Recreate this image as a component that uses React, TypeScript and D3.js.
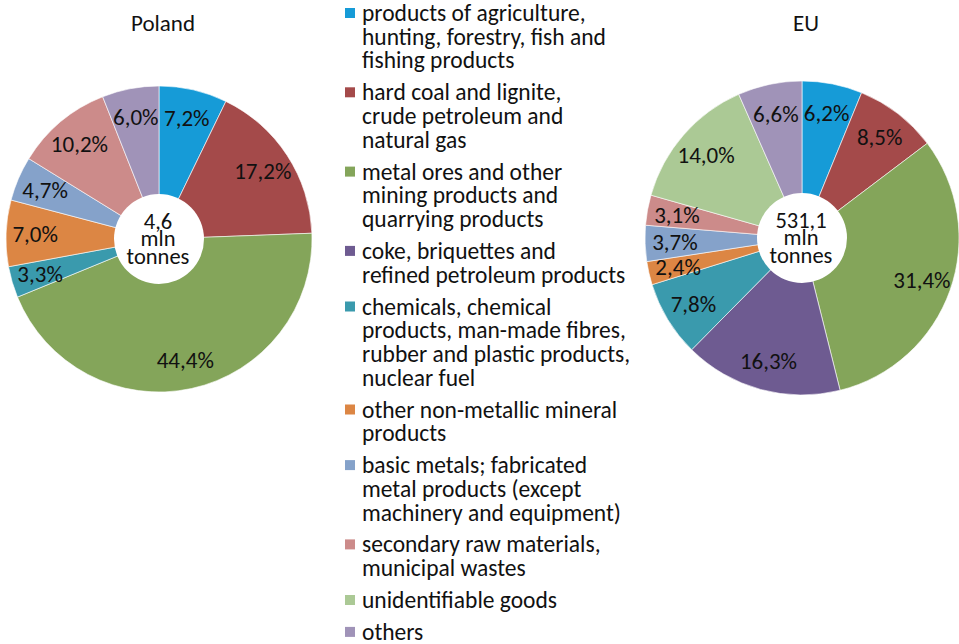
import React from 'react';
import * as d3 from 'd3';

const categories = [
  ['products of agriculture,', 'hunting, forestry, fish and', 'fishing products'],
  ['hard coal and lignite,', 'crude petroleum and', 'natural gas'],
  ['metal ores and other', 'mining products and', 'quarrying products'],
  ['coke, briquettes and', 'refined petroleum products'],
  ['chemicals, chemical', 'products, man-made fibres,', 'rubber and plastic products,', 'nuclear fuel'],
  ['other non-metallic mineral', 'products'],
  ['basic metals; fabricated', 'metal products (except', 'machinery and equipment)'],
  ['secondary raw materials,', 'municipal wastes'],
  ['unidentifiable goods'],
  ['others'],
];

const colors = [
  '#169bd7', '#a44a4a', '#84a55a', '#6e5b91', '#3a9aad',
  '#dc8644', '#85a2ca', '#cc8b8a', '#abc995', '#a093b8',
];

const polandValues = [7.2, 17.2, 44.4, 0, 3.3, 7.0, 4.7, 10.2, 0, 6.0];
const euValues = [6.2, 8.5, 31.4, 16.3, 7.8, 2.4, 3.7, 3.1, 14.0, 6.6];

const charts = [
  { title: 'Poland', values: polandValues, total: '4,6', cx: 159, cy: 239, r: 153 },
  { title: 'EU', values: euValues, total: '531,1', cx: 802, cy: 238, r: 157 },
];

const FONT = 'Carlito, Lato, "Open Sans", sans-serif';
const fmt = (v: number) => v.toFixed(1).replace('.', ',') + '%';

const Donut = ({ title, values, total, cx, cy, r }) => {
  const pie = d3.pie<number>().sort(null).value(d => d);
  const arcs = pie(values);
  const arc = d3.arc<d3.PieArcDatum<number>>().innerRadius(0).outerRadius(r);
  const labelArc = d3.arc<d3.PieArcDatum<number>>().innerRadius(r * 0.81).outerRadius(r * 0.81);
  return (
    <g>
      <text x={cx + 4} y={23} textAnchor="middle" dominantBaseline="central" fontSize={23} fill="#111">{title}</text>
      <g transform={`translate(${cx},${cy})`}>
        {arcs.map((a, i) => a.value > 0 && (
          <path key={i} d={arc(a)} fill={colors[i]} stroke="#fff" strokeWidth={0.6} />
        ))}
        <circle r={45} fill="#fff" />
        {arcs.map((a, i) => {
          if (a.value <= 0) return null;
          const [x, y] = labelArc.centroid(a);
          return (
            <text key={i} x={x} y={y} textAnchor="middle" dominantBaseline="central" fontSize={23} fill="#111">{fmt(a.value)}</text>
          );
        })}
        {[total, 'mln', 'tonnes'].map((t, i) => (
          <text key={t} x={-1} y={-18 + i * 17.5} textAnchor="middle" dominantBaseline="central" fontSize={22.5} fill="#111">{t}</text>
        ))}
      </g>
    </g>
  );
};

export default function App() {
  const lineH = 23.7;
  const gap = 8.2;
  let y = 13;
  const items = categories.map((lines, i) => {
    const top = y;
    y += lines.length * lineH + gap;
    return { lines, top, i };
  });
  return (
    <svg width={959} height={644} style={{ position: 'absolute', left: 0, top: 0 }} fontFamily={FONT}>
      <rect width={959} height={644} fill="#fff" />
      {charts.map(c => <Donut key={c.title} {...c} />)}
      <g>
        {items.map(({ lines, top, i }) => (
          <g key={i}>
            <rect x={345} y={top - 5} width={10} height={10} fill={colors[i]} />
            {lines.map((l, j) => (
              <text key={j} x={362} y={top + j * lineH} dominantBaseline="central" fontSize={23.5} fill="#111">{l}</text>
            ))}
          </g>
        ))}
      </g>
    </svg>
  );
}
